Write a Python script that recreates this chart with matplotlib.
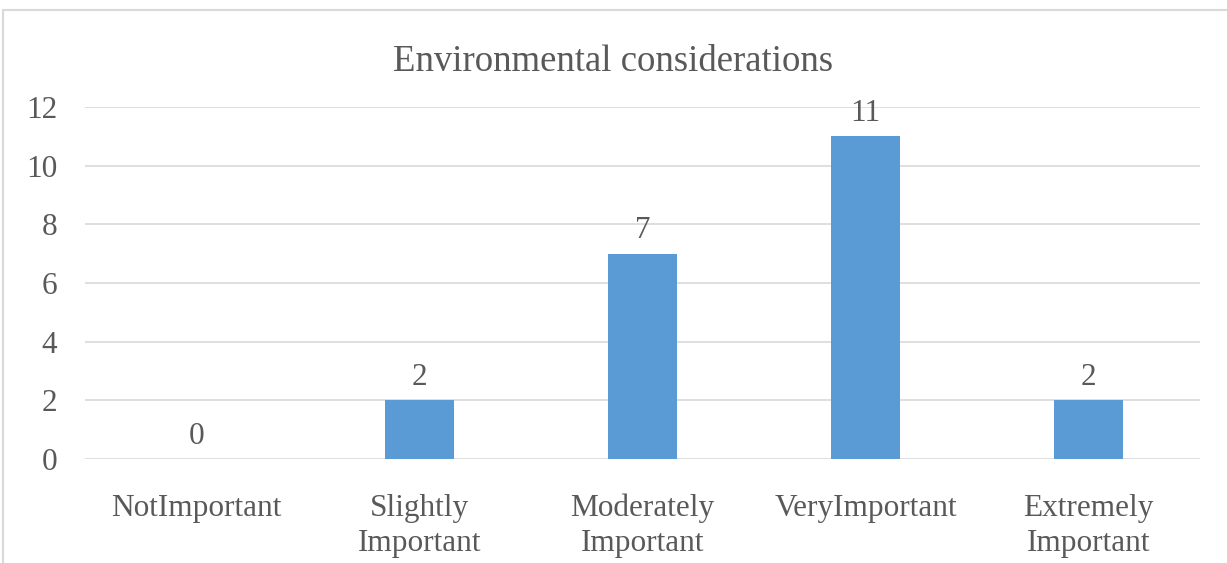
import matplotlib.pyplot as plt
from matplotlib.patches import Rectangle

# survey counts per importance level
categories = ['NotImportant', 'Slightly\nImportant', 'Moderately\nImportant',
              'VeryImportant', 'Extremely\nImportant']
counts = [0, 2, 7, 11, 2]
yticks = [0, 2, 4, 6, 8, 10, 12]

plt.rcParams['font.family'] = ['Liberation Serif', 'DejaVu Serif']
text_color = '#595959'
grid_color = '#D9D9D9'
bar_color = '#5B9BD5'

fig = plt.figure(figsize=(12.27, 5.63), dpi=100)

# light chart-area border
fig.patches.append(Rectangle((3 / 1227, -0.05), 1.1, 1.05 - 10 / 563,
                             transform=fig.transFigure, fill=False,
                             edgecolor=grid_color, linewidth=1.5))

ax = fig.add_axes([85 / 1227, 104 / 563, 1115 / 1227, 352 / 563])
x = range(len(categories))
bars = ax.bar(x, counts, width=0.31, color=bar_color, zorder=3)

ax.set_xlim(-0.5, len(categories) - 0.5)
ax.set_ylim(0, 12)
ax.set_yticks(yticks)
ax.set_xticks(list(x))
ax.set_xticklabels(categories, linespacing=1.27)
ax.yaxis.grid(True, color=grid_color, linewidth=1.2, zorder=0)
for s in ax.spines.values():
    s.set_visible(False)
ax.tick_params(axis='both', length=0, colors=text_color, labelsize=22.5)
ax.tick_params(axis='y', pad=20)
ax.tick_params(axis='x', pad=25)

for rect, v in zip(bars, counts):
    ax.annotate(str(v), (rect.get_x() + rect.get_width() / 2, v),
                xytext=(0, 6), textcoords='offset points',
                ha='center', va='bottom', fontsize=22.5, color=text_color)

fig.text(0.5, 1 - 62 / 563, 'Environmental considerations', ha='center',
         va='center', fontsize=26.5, color=text_color)

fig.savefig('out.png', dpi=100)
